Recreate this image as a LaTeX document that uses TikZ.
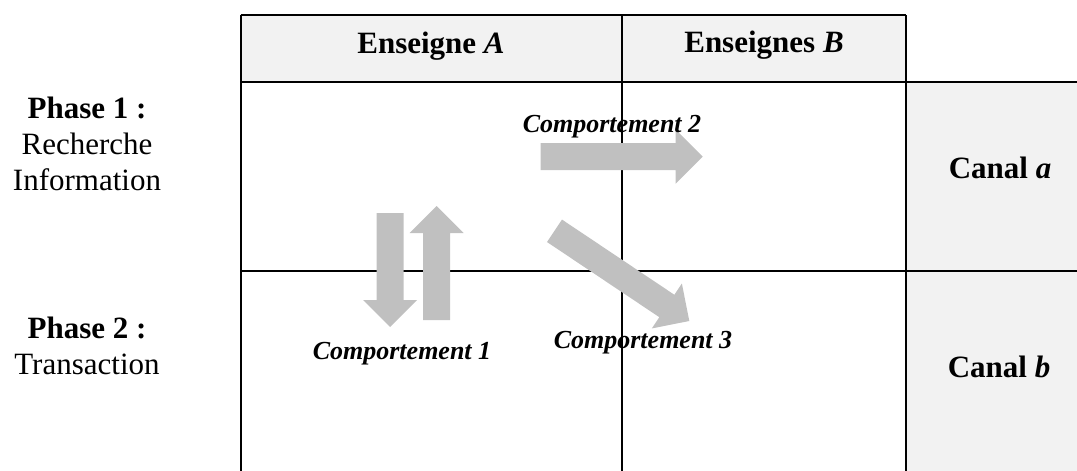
\documentclass[tikz,border=0pt]{standalone}
\usepackage{fontspec}
\setmainfont{Liberation Serif}
\usetikzlibrary{calc}
\definecolor{cellgray}{HTML}{F2F2F2}
\definecolor{arrowgray}{HTML}{C0C0C0}
\tikzset{
  gridline/.style={line width=2pt, black},
  headtext/.style={font=\fontsize{31}{36}\selectfont\bfseries, anchor=base, inner sep=0pt},
  sidetext/.style={font=\fontsize{31}{36}\selectfont, align=center, anchor=north, inner sep=0pt},
  behav/.style={font=\fontsize{26}{30}\selectfont\bfseries\itshape, anchor=base, inner sep=0pt},
  arrowfill/.style={fill=arrowgray}
}
% broad block arrow from tail #1 to tip #2
\newcommand{\blockarrow}[2]{%
  \coordinate (neck) at ($(#2)!27pt!(#1)$);
  \fill[arrowfill] ($(#1)!13.5pt!90:(#2)$) -- ($(neck)!13.5pt!90:(#2)$)
    -- ($(neck)!27pt!90:(#2)$) -- (#2) -- ($(neck)!27pt!-90:(#2)$)
    -- ($(neck)!13.5pt!-90:(#2)$) -- ($(#1)!13.5pt!-90:(#2)$) -- cycle;
}
\begin{document}
\begin{tikzpicture}[x=1pt, y=-1pt]
\useasboundingbox (0,0) rectangle (1077,471);

% shaded cells
\fill[cellgray] (240.7,15) rectangle (905.7,82);
\fill[cellgray] (905.7,82) rectangle (1077,471);

% grid
\draw[gridline] (240.7,15) -- (905.7,15);
\draw[gridline] (240.7,82) -- (1077,82);
\draw[gridline] (240.7,271) -- (1077,271);
\draw[gridline] (240.7,15) -- (240.7,471);
\draw[gridline] (621.7,15) -- (621.7,471);
\draw[gridline] (905.7,15) -- (905.7,471);

% block arrows
\coordinate (c1down-t) at (390,213);
\coordinate (c1down-h) at (390,327);
\coordinate (c1up-t) at (436.7,320);
\coordinate (c1up-h) at (436.7,206);
\coordinate (c2-t) at (540.7,156.7);
\coordinate (c2-h) at (702.7,156.7);
\coordinate (c3-t) at (554.5,230.8);
\coordinate (c3-h) at (689.3,321);
\blockarrow{c1down-t}{c1down-h}
\blockarrow{c1up-t}{c1up-h}
\blockarrow{c2-t}{c2-h}
\blockarrow{c3-t}{c3-h}

% column headers
\node[headtext] (encA) at (431,53) {Enseigne \textit{A}};
\node[headtext] (encB) at (764,52) {Enseignes \textit{B}};

% channels
\node[headtext] (canA) at (1000,178) {Canal \textit{a}};
\node[headtext] (canB) at (999,377) {Canal \textit{b}};

% phases
\node[sidetext] (ph1) at (87,97) {\textbf{Phase 1 :}\\Recherche\\Information};
\node[sidetext] (ph2) at (87,317) {\textbf{Phase 2 :}\\Transaction};

% behaviours
\node[behav] (b1) at (402,359) {Comportement 1};
\node[behav] (b2) at (612,132) {Comportement 2};
\node[behav] (b3) at (643,348) {Comportement 3};
\end{tikzpicture}
\end{document}
